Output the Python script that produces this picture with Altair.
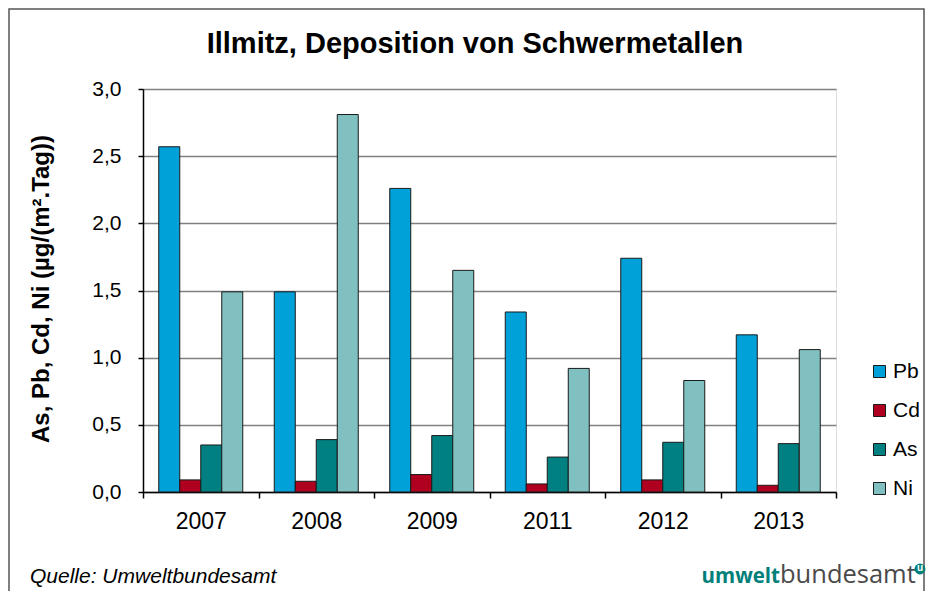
import altair as alt
import pandas as pd

# ---- data ----
years = ["2007", "2008", "2009", "2011", "2012", "2013"]
metals = ["Pb", "Cd", "As", "Ni"]
pb_vals = [2.57, 1.49, 2.26, 1.34, 1.74, 1.17]
cd_vals = [0.09, 0.08, 0.13, 0.06, 0.09, 0.05]
as_vals = [0.35, 0.39, 0.42, 0.26, 0.37, 0.36]
ni_vals = [1.49, 2.81, 1.65, 0.92, 0.83, 1.06]
metal_colors = ["#00A1D9", "#AF0020", "#008080", "#80C0C0"]
y_ticks = [0, 0.5, 1.0, 1.5, 2.0, 2.5, 3.0]

title_text = "Illmitz, Deposition von Schwermetallen"
y_title_text = "As, Pb, Cd, Ni (µg/(m².Tag))"
source_text = "Quelle: Umweltbundesamt"
logo_bold = "umwelt"
logo_regular = "bundesamt"
logo_mark = "u"

rows = []
for metal, vals in zip(metals, [pb_vals, cd_vals, as_vals, ni_vals]):
    for yr, v in zip(years, vals):
        rows.append({"Jahr": yr, "Metall": metal, "Wert": v})
df = pd.DataFrame(rows)
one = pd.DataFrame({"k": [0]})

FONT = "Liberation Sans"
W, H = 693, 403

bars = alt.Chart(df).mark_bar(stroke="#1a1a1a", strokeWidth=1).encode(
    x=alt.X(
        "Jahr:N", sort=years,
        scale=alt.Scale(paddingInner=0, paddingOuter=0),
        axis=alt.Axis(
            title=None, labelAngle=0, labelFontSize=23, labelFont=FONT,
            labelColor="black", tickBand="extent", tickSize=6, tickColor="black",
            tickWidth=1.5, domainColor="black", domainWidth=1.5, labelPadding=12,
            grid=False,
        ),
    ),
    xOffset=alt.XOffset(
        "Metall:N", sort=metals,
        scale=alt.Scale(paddingOuter=0.75, paddingInner=0),
    ),
    y=alt.Y(
        "Wert:Q",
        scale=alt.Scale(domain=[0, 3], nice=False),
        axis=alt.Axis(
            title=None, values=y_ticks,
            labelExpr="replace(format(datum.value, '.1f'), '.', ',')",
            labelFontSize=21, labelFont=FONT, labelColor="black",
            tickSize=5, tickColor="black", tickWidth=1.5,
            domainColor="black", domainWidth=1.5, labelPadding=17,
            grid=True, gridColor="#808080", gridWidth=1.5,
        ),
    ),
    color=alt.Color(
        "Metall:N", sort=metals,
        scale=alt.Scale(domain=metals, range=metal_colors),
        legend=alt.Legend(
            title=None, orient="none", legendX=726, legendY=272,
            symbolType="square", symbolSize=144, symbolStrokeColor="#1a1a1a",
            symbolStrokeWidth=1, labelFontSize=21, labelFont=FONT,
            labelColor="black", labelOffset=3, rowPadding=17, padding=0,
        ),
    ),
)

title = alt.Chart(one).mark_text(
    text=title_text, font=FONT, fontSize=29, fontWeight="bold",
    align="center", baseline="alphabetic", color="black",
).encode(x=alt.value(332), y=alt.value(-36))

y_title = alt.Chart(one).mark_text(
    text=y_title_text, font=FONT, fontSize=24, fontWeight="bold",
    align="center", baseline="middle", angle=270, color="black",
).encode(x=alt.value(-101), y=alt.value(200))

source = alt.Chart(one).mark_text(
    text=source_text, font=FONT, fontSize=21, fontStyle="italic",
    align="left", baseline="alphabetic", color="black",
).encode(x=alt.value(-113), y=alt.value(494))

logo1 = alt.Chart(one).mark_text(
    text=logo_bold, font="Open Sans", fontSize=20.5, fontWeight="bold",
    align="right", baseline="alphabetic", color="#00807A",
).encode(x=alt.value(637), y=alt.value(494))

logo2 = alt.Chart(one).mark_text(
    text=logo_regular, font="Open Sans", fontSize=25.5,
    align="left", baseline="alphabetic", color="#4a4a4a",
).encode(x=alt.value(637), y=alt.value(494))

logo_circle = alt.Chart(one).mark_point(
    shape="circle", filled=True, size=120, color="#00807A", opacity=1,
).encode(x=alt.value(777), y=alt.value(480))

logo_u = alt.Chart(one).mark_text(
    text=logo_mark, font=FONT, fontSize=10, fontWeight="bold",
    align="center", baseline="middle", color="white",
).encode(x=alt.value(777), y=alt.value(479))

frame = alt.Chart(one).mark_rect(
    fill="white", fillOpacity=0, stroke="#555555", strokeWidth=1.5,
).encode(
    x=alt.value(-134), x2=alt.value(781),
    y=alt.value(-80), y2=alt.value(560),
)

chart = alt.layer(
    frame, bars, title, y_title, source, logo1, logo2, logo_circle, logo_u
).properties(
    width=W, height=H,
    autosize=alt.AutoSizeParams(type="none"),
    padding={"left": 135, "top": 81, "right": 90, "bottom": 99},
).configure_view(
    stroke="black", strokeWidth=1.5,
).configure(background="white")

chart.save("out.html", embed_options={"renderer": "svg", "actions": False})
